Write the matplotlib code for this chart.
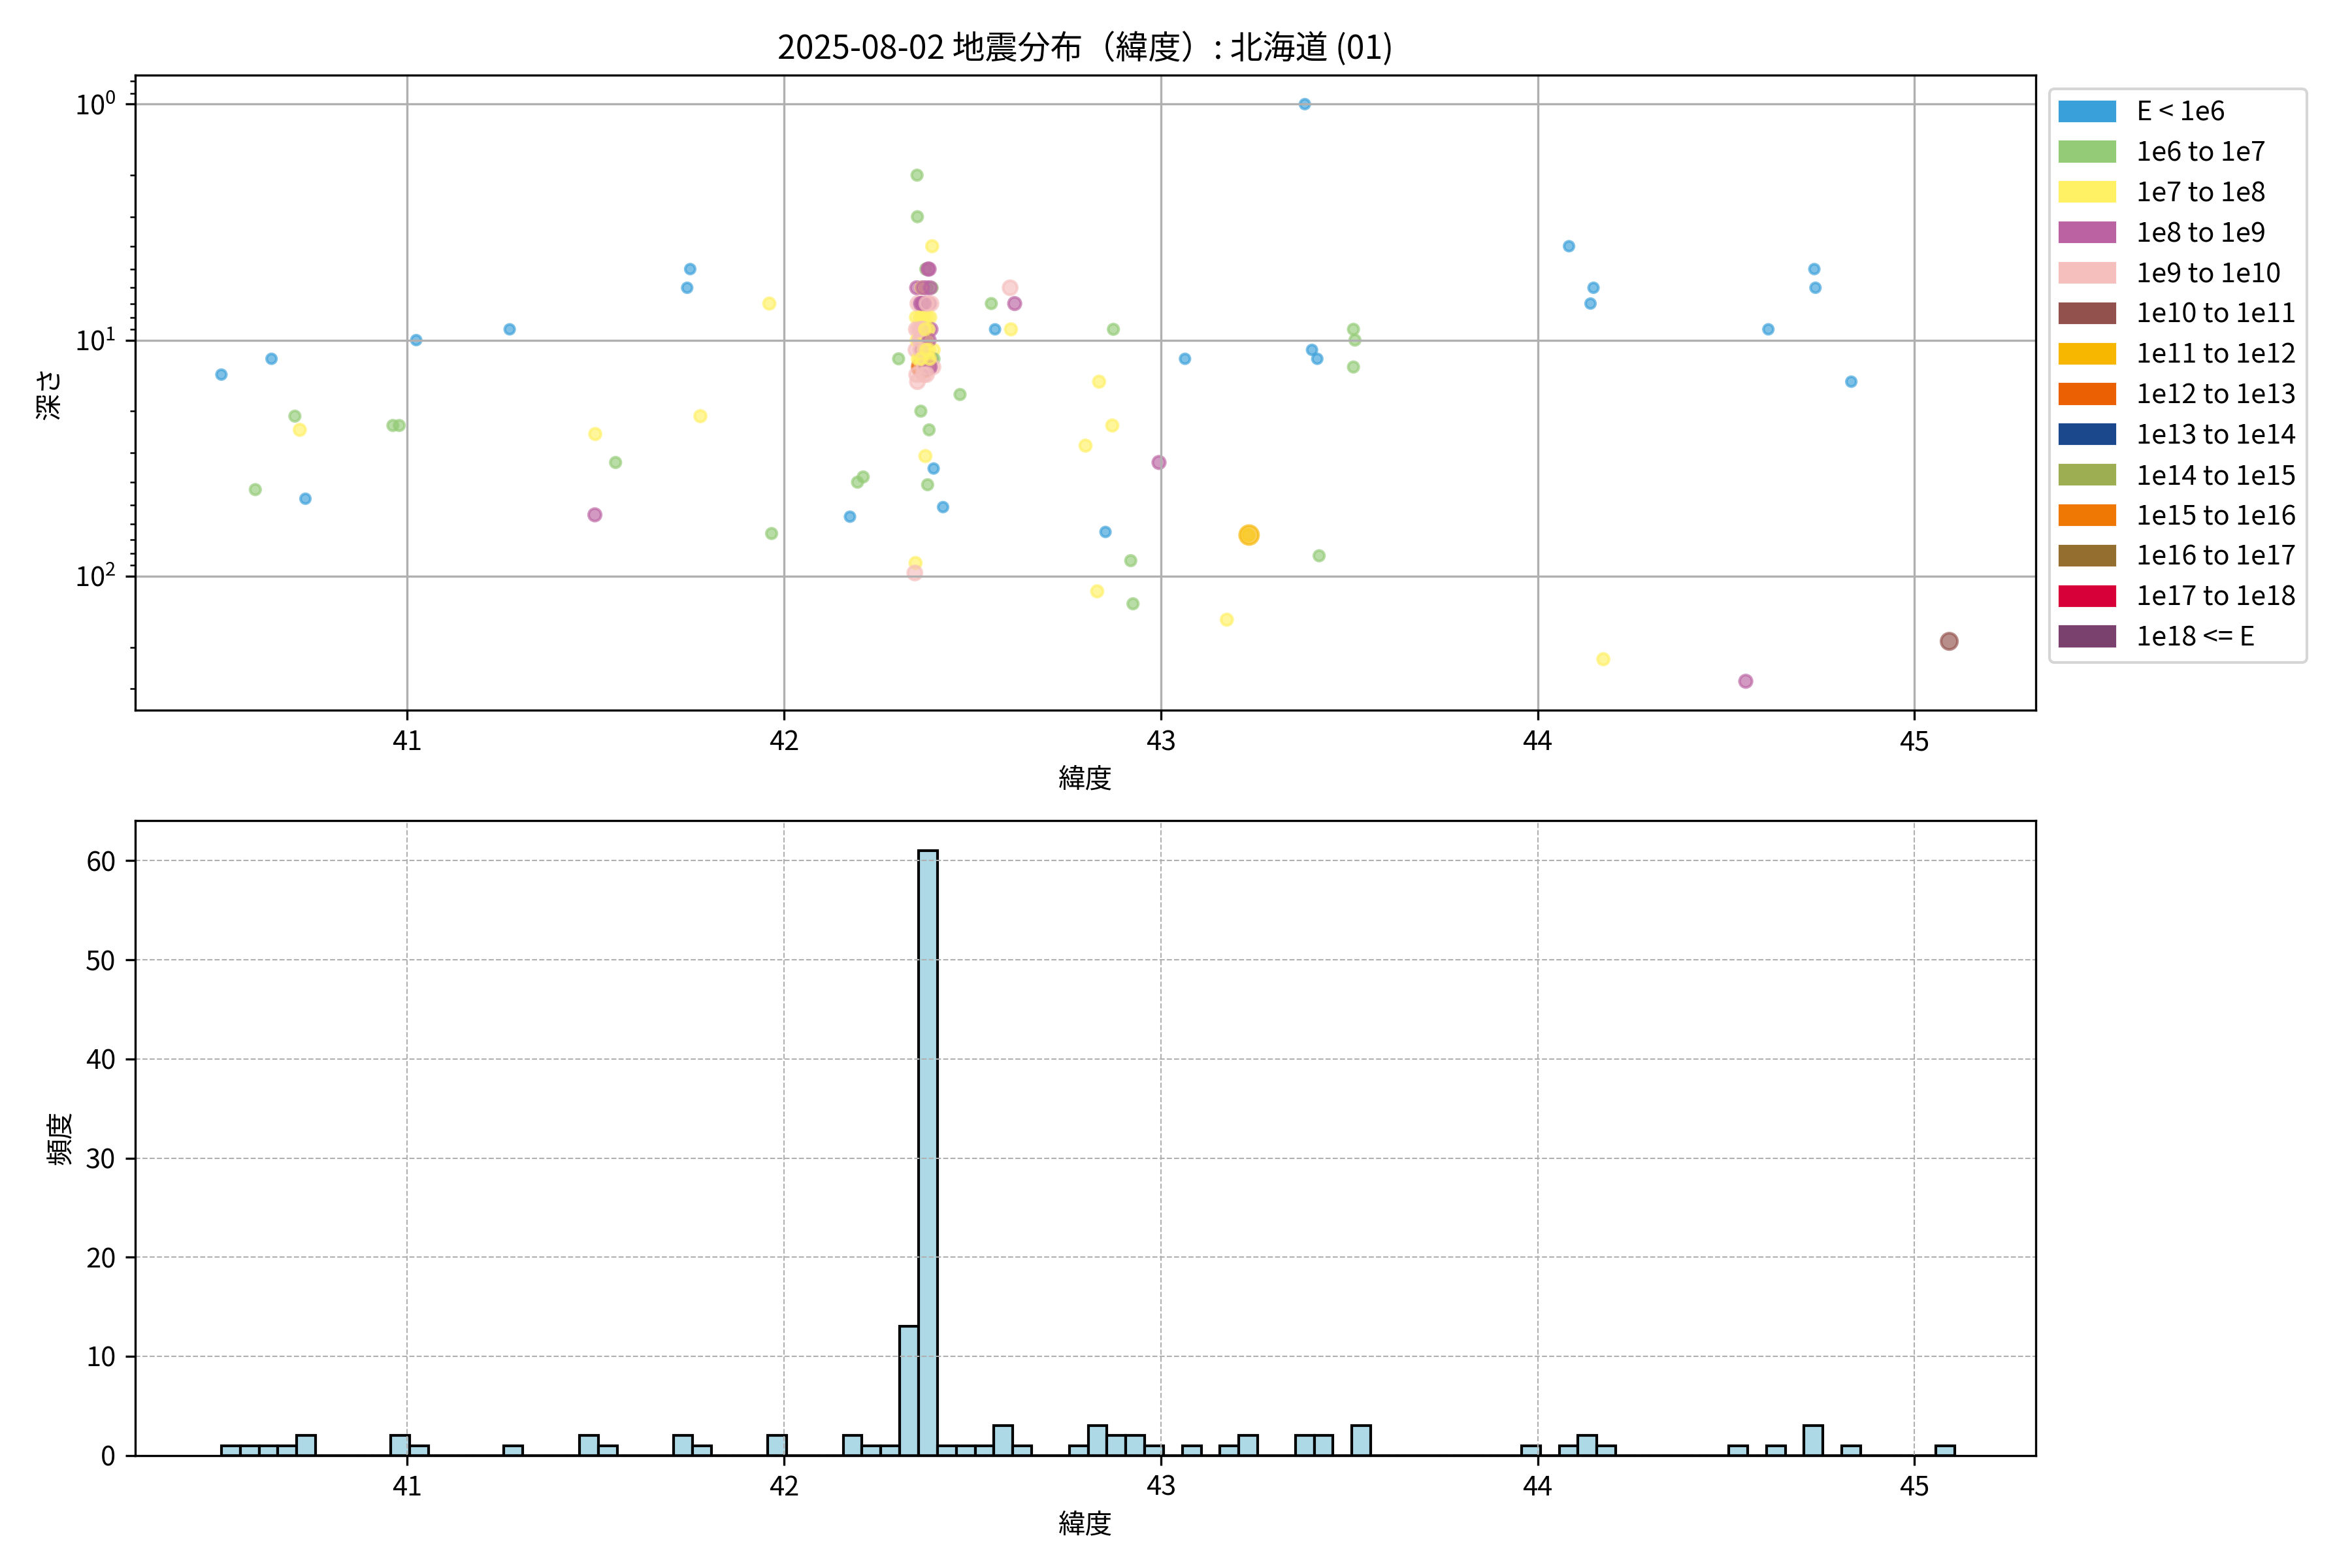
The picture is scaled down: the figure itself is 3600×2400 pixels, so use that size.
import numpy as np
import matplotlib
matplotlib.use("Agg")
import matplotlib.pyplot as plt
import matplotlib.patches as mpatches

plt.rcParams['font.family'] = ['Noto Sans CJK JP', 'DejaVu Sans']

# エネルギー階級
class_labels = ["E < 1e6", "1e6 to 1e7", "1e7 to 1e8", "1e8 to 1e9", "1e9 to 1e10",
                "1e10 to 1e11", "1e11 to 1e12", "1e12 to 1e13", "1e13 to 1e14",
                "1e14 to 1e15", "1e15 to 1e16", "1e16 to 1e17", "1e17 to 1e18", "1e18 <= E"]
class_colors = ["#3aa0da", "#94cb77", "#fff064", "#bb63a2", "#f5bfbe", "#93514d", "#f7b600",
                "#eb6002", "#1b488d", "#9cae51", "#ef7805", "#946e2e", "#d80039", "#7a416f"]
class_sizes = [13, 15, 18, 21, 27, 36, 48, 60, 72, 84, 96, 108, 120, 132]

# 震源データ（緯度, 深さ km, 階級）
lat = [40.507, 40.597, 40.640, 40.702, 40.715, 40.730, 40.962, 40.979, 41.024, 41.272,
       41.498, 41.499, 41.553, 41.743, 41.751, 41.778, 41.961, 41.967, 42.175, 42.195,
       42.210, 42.304,
       42.368, 42.353, 42.354, 42.349, 42.347, 42.352, 42.350, 42.351, 42.350, 42.352,
       42.354, 42.352, 42.355, 42.355,
       42.393, 42.376, 42.382, 42.378, 42.393, 42.365, 42.362, 42.370, 42.385, 42.390,
       42.360, 42.372, 42.388, 42.358, 42.377, 42.390, 42.360, 42.370, 42.380, 42.365,
       42.375, 42.397, 42.360, 42.375, 42.390, 42.398, 42.380, 42.395, 42.363,
       42.385, 42.375, 42.397, 42.381, 42.368, 42.372, 42.366, 42.380, 42.368, 42.383,
       42.365, 42.375, 42.385, 42.370, 42.385, 42.368, 42.382, 42.372, 42.388, 42.378,
       42.366, 42.379, 42.362, 42.374, 42.362, 42.378, 42.364, 42.387, 42.370, 42.385,
       42.388,
       42.422, 42.467, 42.550, 42.560, 42.600, 42.602, 42.612, 42.800, 42.831, 42.836,
       42.853, 42.871, 42.874, 42.920, 42.926, 42.995, 43.064, 43.175, 43.232, 43.234,
       43.382, 43.401, 43.415, 43.420, 43.511, 43.515, 43.511, 43.980, 44.083, 44.140,
       44.148, 44.174, 44.552, 44.612, 44.734, 44.737, 44.740, 44.832, 45.092]
depth = [14, 43, 12, 21, 24, 47, 23, 23, 10, 9,
         55, 25, 33, 6, 5, 21, 7, 66, 56, 40,
         38, 12,
         13, 2, 3, 88, 97, 6, 8, 9, 11, 14,
         15, 10, 7, 12,
         4, 5, 5, 6, 6, 6, 7, 7, 7, 7,
         8, 8, 8, 9, 9, 9, 10, 10, 10, 11,
         11, 11, 12, 12, 12, 12, 13, 13, 20,
         24, 31, 35, 41, 6, 7, 8, 8, 9, 9,
         10, 10, 10, 11, 11, 12, 12, 13, 13, 14,
         7, 7, 9, 9, 11, 11, 12, 12, 14, 5,
         6,
         51, 17, 7, 9, 6, 9, 7, 28, 116, 15,
         65, 23, 9, 86, 131, 33, 12, 153, 67, 67,
         1, 11, 12, 82, 9, 10, 13, 0, 4, 7,
         6, 225, 279, 9, 5, 6, 0, 15, 189]
ecls = [0, 1, 0, 1, 2, 0, 1, 1, 0, 0,
        3, 2, 1, 0, 0, 2, 2, 1, 0, 1,
        1, 1,
        7, 1, 1, 2, 4, 3, 2, 4, 4, 4,
        4, 2, 4, 2,
        2, 1, 3, 3, 1, 2, 3, 3, 3, 4,
        2, 2, 2, 4, 2, 3, 4, 2, 2, 3,
        2, 2, 2, 2, 3, 1, 5, 4, 1,
        1, 2, 0, 1, 3, 3, 2, 2, 4, 2,
        4, 2, 3, 2, 2, 2, 2, 4, 3, 4,
        3, 4, 4, 2, 4, 2, 2, 2, 4, 3,
        3,
        0, 1, 1, 0, 4, 2, 3, 2, 2, 2,
        0, 2, 1, 1, 1, 3, 0, 2, 2, 6,
        0, 0, 0, 1, 1, 1, 1, 0, 0, 0,
        0, 2, 3, 0, 0, 0, 0, 0, 5]

lat = np.array(lat)
depth = np.array(depth, dtype=float)
ecls = np.array(ecls)

fig, (ax1, ax2) = plt.subplots(2, 1, figsize=(12, 8), dpi=300)
fig.subplots_adjust(left=0.0574, right=0.8655, top=0.952, bottom=0.0718, hspace=0.174)

# 上段：緯度と深さ
vis = depth > 0
ax1.scatter(lat[vis], depth[vis],
            c=[class_colors[k] for k in ecls[vis]],
            s=[class_sizes[k] for k in ecls[vis]],
            alpha=0.65)
ax1.set_yscale('log')
ax1.invert_yaxis()
ax1.set_xlabel('緯度')
ax1.set_ylabel('深さ')
ax1.set_title('2025-08-02 地震分布（緯度）: 北海道 (01)')
ax1.grid(True)
handles = [mpatches.Patch(color=c, label=l) for c, l in zip(class_colors, class_labels)]
ax1.legend(handles=handles, loc='upper left', bbox_to_anchor=(1, 1))

# 下段：緯度ヒストグラム
bins = np.arange(lat.min(), lat.max() + 0.05, 0.05)
ax2.hist(lat, bins=bins, color='lightblue', edgecolor='black')
ax2.set_xlim(ax1.get_xlim())
ax2.set_xlabel('緯度')
ax2.set_ylabel('頻度')
ax2.grid(True, linestyle='--', linewidth=0.5)

plt.savefig('out.png')
